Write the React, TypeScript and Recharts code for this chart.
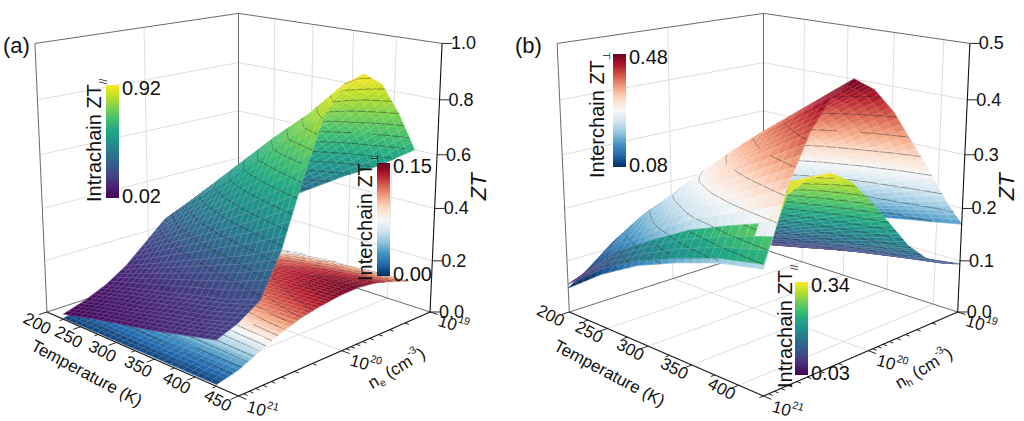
import React from 'react';
import { ScatterChart, Scatter, XAxis, YAxis } from 'recharts';

// log10 of carrier concentration (cm^-3) for every surface column
const logN = [21, 20.8, 20.6, 20.4, 20.2, 20, 19.8, 19.6, 19.4, 19.2, 19];

// (a) electrons
const tempA = [225, 265, 305, 345, 385, 425];
const intraA = [
  [0.02, 0.045, 0.08, 0.13, 0.2, 0.27, 0.3, 0.31, 0.3, 0.25, 0.2],
  [0.05, 0.075, 0.11, 0.18, 0.28, 0.38, 0.42, 0.43, 0.41, 0.35, 0.28],
  [0.075, 0.1, 0.14, 0.23, 0.36, 0.48, 0.54, 0.55, 0.52, 0.45, 0.36],
  [0.1, 0.13, 0.17, 0.28, 0.44, 0.59, 0.66, 0.67, 0.64, 0.55, 0.44],
  [0.13, 0.155, 0.2, 0.33, 0.52, 0.7, 0.77, 0.79, 0.75, 0.65, 0.51],
  [0.16, 0.19, 0.24, 0.39, 0.61, 0.81, 0.9, 0.92, 0.87, 0.75, 0.6],
];
const interA = [
  [0.004, 0.017, 0.04, 0.063, 0.08, 0.09, 0.097, 0.1, 0.092, 0.072, 0.05],
  [0.005, 0.019, 0.045, 0.07, 0.09, 0.1, 0.108, 0.112, 0.104, 0.084, 0.062],
  [0.005, 0.021, 0.05, 0.078, 0.099, 0.111, 0.12, 0.124, 0.116, 0.097, 0.073],
  [0.006, 0.023, 0.054, 0.084, 0.107, 0.12, 0.13, 0.134, 0.126, 0.107, 0.082],
  [0.006, 0.024, 0.057, 0.09, 0.114, 0.128, 0.139, 0.143, 0.134, 0.114, 0.089],
  [0.006, 0.025, 0.06, 0.095, 0.12, 0.136, 0.146, 0.15, 0.141, 0.12, 0.095],
];

// (b) holes
const tempB = [200, 245, 290, 335, 380, 425];
const intraB = [
  [0.055, 0.07, 0.072, 0.07, 0.064, 0.057, 0.049, 0.042, 0.037, 0.033, 0.03],
  [0.11, 0.15, 0.155, 0.15, 0.136, 0.115, 0.093, 0.074, 0.06, 0.05, 0.044],
  [0.15, 0.2, 0.208, 0.204, 0.186, 0.158, 0.127, 0.098, 0.078, 0.065, 0.057],
  [0.18, 0.25, 0.26, 0.256, 0.234, 0.198, 0.16, 0.123, 0.097, 0.081, 0.07],
  [0.205, 0.285, 0.3, 0.296, 0.272, 0.232, 0.188, 0.145, 0.114, 0.095, 0.082],
  [0.22, 0.32, 0.338, 0.335, 0.31, 0.265, 0.215, 0.165, 0.13, 0.108, 0.094],
];
const interB = [
  [0.047, 0.075, 0.108, 0.117, 0.12, 0.118, 0.112, 0.105, 0.097, 0.088, 0.08],
  [0.1, 0.155, 0.19, 0.205, 0.21, 0.202, 0.187, 0.166, 0.145, 0.122, 0.103],
  [0.142, 0.205, 0.255, 0.279, 0.29, 0.277, 0.253, 0.221, 0.188, 0.153, 0.122],
  [0.172, 0.255, 0.31, 0.346, 0.36, 0.343, 0.311, 0.268, 0.226, 0.179, 0.14],
  [0.197, 0.29, 0.36, 0.403, 0.42, 0.399, 0.36, 0.309, 0.258, 0.202, 0.155],
  [0.212, 0.33, 0.41, 0.46, 0.48, 0.455, 0.41, 0.35, 0.29, 0.225, 0.17],
];

const tTicksA = [200, 250, 300, 350, 400, 450];
const tTicksB = [200, 250, 300, 350, 400];
const nTickExp = [21, 20, 19];
const ztTicksA = [0, 0.2, 0.4, 0.6, 0.8, 1.0];
const ztTicksB = [0, 0.1, 0.2, 0.3, 0.4, 0.5];

const VIRIDIS = ['#440154', '#482475', '#414487', '#355f8d', '#2a788e', '#21918c', '#22a884', '#44bf70', '#7ad151', '#bddf26', '#fde725'];
const RDBU = ['#053061', '#2166ac', '#4393c3', '#92c5de', '#d1e5f0', '#f7f7f7', '#fddbc7', '#f4a582', '#d6604d', '#b2182b', '#67001f'];

const FONT = '"Liberation Sans", Arial, Helvetica, sans-serif';
const W = 512;
const H = 421;
const SUB = 5;

function hexRgb(h) {
  const n = parseInt(h.slice(1), 16);
  return [(n >> 16) & 255, (n >> 8) & 255, n & 255];
}

function cmap(stops, t) {
  const u = Math.max(0, Math.min(1, t)) * (stops.length - 1);
  const k = Math.min(stops.length - 2, Math.floor(u));
  const f = u - k;
  const a = hexRgb(stops[k]);
  const b = hexRgb(stops[k + 1]);
  const c = a.map((v, i) => Math.round(v + (b[i] - v) * f));
  return `rgb(${c[0]},${c[1]},${c[2]})`;
}

// perspective camera looking at the unit box from the front corner
const EL = (16 * Math.PI) / 180;
const CAM = 4.534;

function project(p, X, Y, Z) {
  const pr = (X + Y - 1) / Math.SQRT2;
  const pu = (X - Y) / Math.SQRT2;
  const pz = Z - 0.5;
  const depth = CAM - Math.cos(EL) * pu - Math.sin(EL) * pz;
  const up = -Math.sin(EL) * pu + Math.cos(EL) * pz;
  return { x: p.cx + (p.sx * pr) / depth, y: p.cy - (p.sy * up) / depth, depth };
}

const panelA = {
  name: '(a)', carrier: 'e', cx: 238.5, cy: 181.8, sx: 1265.5, sy: 1265.5,
  tMin: 200, tMax: 450, zMax: 1, tTicks: tTicksA, zTicks: ztTicksA,
  tLab: [3, 18, -8, 11],
  surfaces: [
    { temps: tempA, values: intraA, stops: VIRIDIS, vmin: 0.02, vmax: 0.92, step: 0.05 },
    { temps: tempA, values: interA, stops: RDBU, vmin: 0, vmax: 0.15, step: 0.01 },
  ],
  bars: [
    { x: 106, top: 85, bottom: 198, stops: VIRIDIS, hi: '0.92', lo: '0.02', title: 'Intrachain ZT', sub: '//', tx: 101, tb: 202 },
    { x: 377, top: 163, bottom: 276, stops: RDBU, hi: '0.15', lo: '0.00', title: 'Interchain ZT', sub: '\u22a5', tx: 372, tb: 281 },
  ],
};

const panelB = {
  name: '(b)', carrier: 'h', cx: 251.5, cy: 181.8, sx: 1283, sy: 1265.5,
  tMin: 200, tMax: 425, zMax: 0.5, tTicks: tTicksB, zTicks: ztTicksB,
  tLab: [-6, 10, -4, 10],
  surfaces: [
    { temps: tempB, values: intraB, stops: VIRIDIS, vmin: 0.03, vmax: 0.34, step: 0.02 },
    { temps: tempB, values: interB, stops: RDBU, vmin: 0.08, vmax: 0.48, step: 0.04 },
  ],
  bars: [
    { x: 101, top: 54, bottom: 167, stops: RDBU, hi: '0.48', lo: '0.08', title: 'Interchain ZT', sub: '\u22a5', tx: 92, tb: 178 },
    { x: 283, top: 282, bottom: 375, stops: VIRIDIS, hi: '0.34', lo: '0.03', title: 'Intrachain ZT', sub: '//', tx: 280, tb: 388 },
  ],
};

function buildFrame(p) {
  const X = (t) => (t - p.tMin) / (p.tMax - p.tMin);
  const grid = [];
  const box = [];
  const axes = [];
  const ticks = [];
  const push = (arr, a, b) => {
    const A = project(p, a[0], a[1], a[2]);
    const B = project(p, b[0], b[1], b[2]);
    arr.push({ x: A.x, y: A.y }, { x: B.x, y: B.y });
  };
  p.zTicks.forEach((z) => {
    const Z = z / p.zMax;
    if (Z <= 0.001 || Z >= 0.999) return;
    push(grid, [0, 0, Z], [0, 1, Z]);
    push(grid, [0, 1, Z], [1, 1, Z]);
  });
  push(grid, [0, 0.5, 0], [0, 0.5, 1]);
  push(grid, [0, 0.5, 0], [1, 0.5, 0]);
  p.tTicks.forEach((t) => {
    const x = X(t);
    if (x <= 0.001 || x >= 0.999) return;
    push(grid, [x, 1, 0], [x, 1, 1]);
    push(grid, [x, 0, 0], [x, 1, 0]);
  });
  push(box, [0, 0, 1], [0, 1, 1]);
  push(box, [0, 1, 1], [1, 1, 1]);
  push(box, [0, 0, 0], [0, 0, 1]);
  push(box, [0, 1, 0], [0, 1, 1]);
  push(box, [0, 0, 0], [0, 1, 0]);
  push(box, [0, 1, 0], [1, 1, 0]);
  push(axes, [0, 0, 0], [1, 0, 0]);
  push(axes, [1, 0, 0], [1, 1, 0]);
  push(axes, [1, 1, 0], [1, 1, 1]);
  for (let t = p.tMin; t <= p.tMax + 0.1; t += 25) {
    const major = p.tTicks.includes(t);
    push(ticks, [X(t), 0, 0], [X(t), major ? -0.035 : -0.018, 0]);
  }
  [20, 19].forEach((e) => {
    for (let k = 1; k <= 9; k++) {
      const Y = (21 - (e + Math.log10(k))) / 2;
      push(ticks, [1, Y, 0], [k === 1 ? 1.035 : 1.018, Y, 0]);
    }
  });
  push(ticks, [1, 0, 0], [1.035, 0, 0]);
  p.zTicks.forEach((z) => {
    const Z = z / p.zMax;
    push(ticks, [1, 1, Z], [1.025, 1.025, Z]);
  });
  return { grid, box, axes, ticks };
}

function buildLabels(p) {
  const X = (t) => (t - p.tMin) / (p.tMax - p.tMin);
  const out = [];
  const add = (q, d) => out.push({ x: q.x, y: q.y, ...d });
  const [dx0, dy0, dx1, dy1] = p.tLab;
  p.tTicks.forEach((t) => {
    const f = X(t);
    add(project(p, f, 0, 0), { parts: [[String(t)]], anchor: 'end', rot: 28, size: 17, dx: dx0 + (dx1 - dx0) * f, dy: dy0 + (dy1 - dy0) * f });
  });
  nTickExp.forEach((e) => add(project(p, 1.04, (21 - e) / 2, -0.02), { parts: [['10'], [String(e), 'sup']], anchor: 'start', rot: 16, size: 17 }));
  p.zTicks.forEach((z) => add(project(p, 1, 1, z / p.zMax), { parts: [[z.toFixed(1)]], anchor: 'start', rot: 0, size: 18, dx: 9 }));
  add(project(p, 0.55, -0.25, 0), { parts: [['Temperature (K)']], anchor: 'middle', rot: 28, size: 17, dy: -4 });
  add(project(p, 1.22, 0.52, 0), { parts: [['n'], [p.carrier, 'sub'], [' (cm'], ['-3', 'sup'], [')']], anchor: 'middle', rot: -31, size: 17 });
  add(project(p, 1, 1, 0.5), { parts: [['ZT']], anchor: 'middle', rot: -90, size: 22, dx: 42, dy: 5, italic: true });
  return out;
}

function buildSurfacePoints(p) {
  const out = [];
  p.surfaces.forEach((s, si) => {
    s.values.forEach((row, i) => {
      row.forEach((v, j) => {
        const X = (s.temps[i] - p.tMin) / (p.tMax - p.tMin);
        const Y = (21 - logN[j]) / 2;
        const q = project(p, X, Y, v / p.zMax);
        out.push({ x: q.x, y: q.y, v, si, d: q.depth });
      });
    });
  });
  return out;
}

function contourPath(c, levels) {
  let d = '';
  const vs = c.map((q) => q.v);
  const lo = Math.min(...vs);
  const hi = Math.max(...vs);
  levels.forEach((L) => {
    if (L <= lo || L >= hi) return;
    const cross = [];
    for (let e = 0; e < 4; e++) {
      const A = c[e];
      const B = c[(e + 1) % 4];
      if ((A.v - L) * (B.v - L) < 0) {
        const f = (L - A.v) / (B.v - A.v);
        cross.push([A.x + f * (B.x - A.x), A.y + f * (B.y - A.y)]);
      }
    }
    for (let k = 0; k + 1 < cross.length; k += 2) {
      d += `M${cross[k][0].toFixed(1)},${cross[k][1].toFixed(1)}L${cross[k + 1][0].toFixed(1)},${cross[k + 1][1].toFixed(1)}`;
    }
  });
  return d;
}

function surfaceLine(p, data) {
  return (props) => {
    const pts = props.points || [];
    if (pts.length < data.length) return <g />;
    const items = [];
    let base = 0;
    const nc = logN.length;
    p.surfaces.forEach((s) => {
      const nr = s.values.length;
      const levels = [];
      for (let c = s.step; c < s.vmax + 1e-9; c += s.step) levels.push(c);
      for (let i = 0; i < nr - 1; i++) {
        for (let j = 0; j < nc - 1; j++) {
          const ids = [base + i * nc + j, base + i * nc + j + 1, base + (i + 1) * nc + j + 1, base + (i + 1) * nc + j];
          const P = ids.map((k) => ({ x: pts[k].x, y: pts[k].y, v: data[k].v, d: data[k].d }));
          const at = (u, w) => {
            const a = (1 - u) * (1 - w);
            const b = u * (1 - w);
            const c = u * w;
            const e = (1 - u) * w;
            return {
              x: a * P[0].x + b * P[1].x + c * P[2].x + e * P[3].x,
              y: a * P[0].y + b * P[1].y + c * P[2].y + e * P[3].y,
              v: a * P[0].v + b * P[1].v + c * P[2].v + e * P[3].v,
              d: a * P[0].d + b * P[1].d + c * P[2].d + e * P[3].d,
            };
          };
          for (let a = 0; a < SUB; a++) {
            for (let b = 0; b < SUB; b++) {
              const cs = [at(a / SUB, b / SUB), at((a + 1) / SUB, b / SUB), at((a + 1) / SUB, (b + 1) / SUB), at(a / SUB, (b + 1) / SUB)];
              const v = (cs[0].v + cs[1].v + cs[2].v + cs[3].v) / 4;
              const d = (cs[0].d + cs[1].d + cs[2].d + cs[3].d) / 4;
              items.push({ cs, d, fill: cmap(s.stops, (v - s.vmin) / (s.vmax - s.vmin)), path: contourPath(cs, levels) });
            }
          }
        }
      }
      base += nr * nc;
    });
    items.sort((a, b) => b.d - a.d);
    return (
      <g>
        {items.map((it, k) => {
          const poly = it.cs.map((q) => `${q.x.toFixed(1)},${q.y.toFixed(1)}`).join(' ');
          return (
            <g key={k}>
              <polygon points={poly} fill={it.fill} stroke={it.fill} strokeWidth={0.6} strokeLinejoin="round" />
              <polygon points={poly} fill="none" stroke="rgba(255,255,255,0.25)" strokeWidth={0.5} />
              {it.path ? <path d={it.path} stroke="#2b2b2b" strokeOpacity={0.75} strokeWidth={0.6} fill="none" /> : null}
            </g>
          );
        })}
      </g>
    );
  };
}

const segLine = (stroke, width) => (props) => {
  const pts = props.points || [];
  const out = [];
  for (let k = 0; k + 1 < pts.length; k += 2) {
    out.push(<line key={k} x1={pts[k].x} y1={pts[k].y} x2={pts[k + 1].x} y2={pts[k + 1].y} stroke={stroke} strokeWidth={width} />);
  }
  return <g>{out}</g>;
};

const noDot = () => <g />;

function renderParts(parts, size) {
  let shift = 0;
  return parts.map(([t, kind], k) => {
    const target = kind === 'sup' ? -0.42 * size : kind === 'sub' ? 0.3 * size : 0;
    const dy = target - shift;
    shift = target;
    return (
      <tspan key={k} dy={dy} fontSize={kind ? size * 0.62 : size}>
        {t}
      </tspan>
    );
  });
}

const labelShape = (props) => {
  const { cx, cy, payload: d } = props;
  if (!d) return <g />;
  const x = cx + (d.dx || 0);
  const y = cy + (d.dy || 0);
  return (
    <text
      x={x}
      y={y}
      transform={d.rot ? `rotate(${d.rot} ${x} ${y})` : undefined}
      textAnchor={d.anchor}
      dominantBaseline="central"
      fontSize={d.size}
      fontStyle={d.italic ? 'italic' : 'normal'}
      fontFamily={FONT}
      fill="#111"
    >
      {renderParts(d.parts, d.size)}
    </text>
  );
};

function ColorBars({ p }) {
  return (
    <svg width={W} height={H} style={{ position: 'absolute', left: 0, top: 0, pointerEvents: 'none' }}>
      <defs>
        {p.bars.map((b, i) => (
          <linearGradient key={i} id={`g-${p.carrier}-${i}`} x1="0" y1="1" x2="0" y2="0">
            {b.stops.map((c, k) => (
              <stop key={k} offset={k / (b.stops.length - 1)} stopColor={c} />
            ))}
          </linearGradient>
        ))}
      </defs>
      <text x={3} y={45} fontSize={22} fontFamily={FONT} dominantBaseline="central" fill="#111">
        {p.name}
      </text>
      {p.bars.map((b, i) => (
        <g key={i} fontFamily={FONT} fill="#111">
          <rect x={b.x} y={b.top} width={13} height={b.bottom - b.top} fill={`url(#g-${p.carrier}-${i})`} />
          <text x={b.x + 16} y={b.top + 3} fontSize={20} dominantBaseline="central">
            {b.hi}
          </text>
          <text x={b.x + 16} y={b.bottom - 2} fontSize={20} dominantBaseline="central">
            {b.lo}
          </text>
          <text transform={`translate(${b.tx},${b.tb}) rotate(-90)`} fontSize={20}>
            {b.title}
            <tspan dy={6} fontSize={10}>
              {b.sub}
            </tspan>
          </text>
        </g>
      ))}
    </svg>
  );
}

function Panel({ p }) {
  const frame = buildFrame(p);
  const labels = buildLabels(p);
  const surf = buildSurfacePoints(p);
  return (
    <div style={{ position: 'relative', width: W, height: H }}>
      <ScatterChart width={W} height={H} margin={{ top: 0, right: 0, bottom: 0, left: 0 }}>
        <XAxis type="number" dataKey="x" domain={[0, W]} hide allowDataOverflow />
        <YAxis type="number" dataKey="y" domain={[0, H]} reversed hide allowDataOverflow />
        <Scatter data={frame.grid} shape={noDot} line={segLine('#d6d6d6', 0.8)} isAnimationActive={false} />
        <Scatter data={frame.box} shape={noDot} line={segLine('#5a5a5a', 0.9)} isAnimationActive={false} />
        <Scatter data={surf} shape={noDot} line={surfaceLine(p, surf)} isAnimationActive={false} />
        <Scatter data={frame.axes} shape={noDot} line={segLine('#111', 1.1)} isAnimationActive={false} />
        <Scatter data={frame.ticks} shape={noDot} line={segLine('#111', 0.9)} isAnimationActive={false} />
        <Scatter data={labels} shape={labelShape} isAnimationActive={false} />
      </ScatterChart>
      <ColorBars p={p} />
    </div>
  );
}

export default function App() {
  return (
    <div style={{ display: 'flex', width: 1024, height: 421, background: '#fff', overflow: 'hidden' }}>
      <style>{'body{margin:0}'}</style>
      <Panel p={panelA} />
      <Panel p={panelB} />
    </div>
  );
}
